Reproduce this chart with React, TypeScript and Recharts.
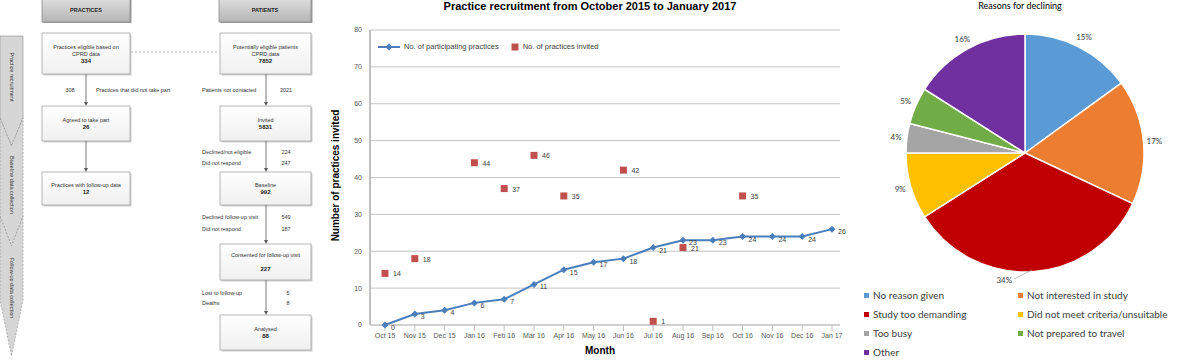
import React from "react";
import {
  ComposedChart,
  Line,
  XAxis,
  YAxis,
  CartesianGrid,
  LabelList,
  PieChart,
  Pie,
  Cell,
} from "recharts";

// recruitment per month
const months = [
  "Oct 15", "Nov 15", "Dec 15", "Jan 16", "Feb 16", "Mar 16", "Apr 16", "May 16",
  "Jun 16", "Jul 16", "Aug 16", "Sep 16", "Oct 16", "Nov 16", "Dec 16", "Jan 17",
];
const participating = [0, 3, 4, 6, 7, 11, 15, 17, 18, 21, 23, 23, 24, 24, 24, 26];
const invited = [14, 18, null, 44, 37, 46, 35, null, 42, 1, 21, null, 35, null, null, null];
const yTicks = [0, 10, 20, 30, 40, 50, 60, 70, 80];

// reasons for declining (%)
const reasons = [
  "No reason given",
  "Not interested in study",
  "Study too demanding",
  "Did not meet criteria/unsuitable",
  "Too busy",
  "Not prepared to travel",
  "Other",
];
const reasonShares = [15, 17, 34, 9, 4, 5, 16];
const reasonColors = ["#5B9BD5", "#ED7D31", "#C00000", "#FFC000", "#A5A5A5", "#70AD47", "#7030A0"];

const lineData = months.map((m, i) => ({
  month: m,
  participating: participating[i],
  invited: invited[i],
}));
const pieData = reasons.map((r, i) => ({ name: r, value: reasonShares[i] }));

const FONT = "'Liberation Sans', Arial, sans-serif";
const BLUE = "#4A7EBB";
const RED = "#C0504D";

const Diamond = (props: any) => {
  const { cx, cy, index } = props;
  if (cx == null || cy == null) return <g key={`d-${index}`} />;
  return (
    <path
      key={`d-${index}`}
      d={`M${cx},${cy - 3.5}L${cx + 3.5},${cy}L${cx},${cy + 3.5}L${cx - 3.5},${cy}Z`}
      fill={BLUE}
    />
  );
};

const Square = (props: any) => {
  const { cx, cy, index, value } = props;
  if (cx == null || cy == null || value == null) return <g key={`s-${index}`} />;
  return <rect key={`s-${index}`} x={cx - 3.5} y={cy - 3.5} width={7} height={7} fill={RED} />;
};

const pointLabel = (dx: number, dy: number) => (props: any) => {
  const { x, y, value } = props;
  if (value == null || x == null) return null;
  return (
    <text x={x + dx} y={y + dy} fontSize={7} fill="#404040" fontFamily={FONT}>
      {value}
    </text>
  );
};

function RecruitmentChart() {
  return (
    <div style={{ position: "absolute", left: 320, top: 0, width: 545, height: 361 }}>
      <div
        style={{
          position: "absolute", left: 0, width: 540, top: 0, textAlign: "center",
          fontFamily: FONT, fontWeight: "bold", fontSize: 11, color: "#000",
        }}
      >
        Practice recruitment from October 2015 to January 2017
      </div>
      <div
        style={{
          position: "absolute", left: 15, top: 177, width: 0, height: 0,
        }}
      >
        <div
          style={{
            position: "absolute", left: -100, top: -7, width: 200, textAlign: "center",
            transform: "rotate(-90deg)", fontFamily: FONT, fontWeight: "bold", fontSize: 10, color: "#000",
          }}
        >
          Number of practices invited
        </div>
      </div>
      <div
        style={{
          position: "absolute", left: 250, width: 60, top: 345, textAlign: "center",
          fontFamily: FONT, fontWeight: "bold", fontSize: 10, color: "#000",
        }}
      >
        Month
      </div>
      <div
        style={{
          position: "absolute", left: 58, top: 42, display: "flex", alignItems: "center",
          fontFamily: FONT, fontSize: 7.5, color: "#404040", zIndex: 2,
        }}
      >
        <svg width={22} height={8}>
          <line x1={0} y1={4} x2={22} y2={4} stroke={BLUE} strokeWidth={2} />
          <path d="M11,0.5L14.5,4L11,7.5L7.5,4Z" fill={BLUE} />
        </svg>
        <span style={{ marginLeft: 4 }}>No. of participating practices</span>
        <svg width={8} height={8} style={{ marginLeft: 12 }}>
          <rect x={0.5} y={0.5} width={7} height={7} fill={RED} />
        </svg>
        <span style={{ marginLeft: 4 }}>No. of practices invited</span>
      </div>
      <ComposedChart
        width={545}
        height={361}
        data={lineData}
        margin={{ top: 30, right: 25, bottom: 16, left: 0 }}
      >
        <CartesianGrid vertical={false} stroke="#c4c4c4" />
        <XAxis
          dataKey="month"
          interval={0}
          height={20}
          padding={{ left: 15, right: 8 }}
          tick={{ fontSize: 7, fill: "#595959", fontFamily: FONT }}
          tickLine={{ stroke: "#bfbfbf" }}
          axisLine={{ stroke: "#bfbfbf" }}
        />
        <YAxis
          domain={[0, 80]}
          ticks={yTicks}
          width={50}
          tick={{ fontSize: 7, fill: "#595959", fontFamily: FONT }}
          tickLine={false}
          axisLine={{ stroke: "#bfbfbf", strokeWidth: 2 }}
        />
        <Line
          dataKey="participating"
          stroke={BLUE}
          strokeWidth={2}
          dot={Diamond}
          activeDot={false}
          isAnimationActive={false}
        >
          <LabelList dataKey="participating" content={pointLabel(6, 5)} />
        </Line>
        <Line
          dataKey="invited"
          stroke="none"
          dot={Square}
          activeDot={false}
          isAnimationActive={false}
        >
          <LabelList dataKey="invited" content={pointLabel(8, 3)} />
        </Line>
      </ComposedChart>
    </div>
  );
}

const RAD = Math.PI / 180;
const renderPieLabel = (p: any) => {
  const r = p.outerRadius + 11;
  const x = p.cx + r * Math.cos(-p.midAngle * RAD);
  const y = p.cy + r * Math.sin(-p.midAngle * RAD);
  if (p.value > 30) {
    const ex = p.cx + (p.outerRadius - 2) * Math.cos(-p.midAngle * RAD);
    const ey = p.cy + (p.outerRadius - 2) * Math.sin(-p.midAngle * RAD);
    return (
      <g>
        <line x1={ex} y1={ey} x2={ex - 18} y2={ey + 9} stroke="#a6a6a6" strokeWidth={0.8} />
        <text x={ex - 28} y={ey + 10} fontSize={8} fill="#404040" textAnchor="middle" dominantBaseline="central" fontFamily="Lato, sans-serif">
          {p.value}%
        </text>
      </g>
    );
  }
  return (
    <text x={x} y={y} fontSize={8} fill="#404040" textAnchor="middle" dominantBaseline="central" fontFamily="Lato, sans-serif">
      {p.value}%
    </text>
  );
};

function ReasonsChart() {
  return (
    <div style={{ position: "absolute", left: 840, top: 0, width: 337, height: 361 }}>
      <div
        style={{
          position: "absolute", left: 0, width: 360, top: 0, textAlign: "center",
          fontFamily: "Lato, sans-serif", fontSize: 9, color: "#000",
        }}
      >
        Reasons for declining
      </div>
      <PieChart width={337} height={290}>
        <Pie
          data={pieData}
          dataKey="value"
          cx={180}
          cy={148}
          outerRadius={119}
          startAngle={90}
          endAngle={-270}
          stroke="#fff"
          strokeWidth={1.5}
          label={renderPieLabel}
          labelLine={false}
          isAnimationActive={false}
        >
          {pieData.map((d, i) => (
            <Cell key={d.name} fill={reasonColors[i]} />
          ))}
        </Pie>
      </PieChart>
      <div
        style={{
          position: "absolute", left: 24, top: 289, width: 320,
          display: "grid", gridTemplateColumns: "154px 160px", rowGap: 7,
          fontFamily: "Lato, sans-serif", fontSize: 10, color: "#404040",
        }}
      >
        {reasons.map((r, i) => (
          <div key={r} style={{ display: "flex", alignItems: "center", height: 12, whiteSpace: "nowrap" }}>
            <span style={{ width: 5, height: 5, background: reasonColors[i], marginRight: 4 }} />
            {r}
          </div>
        ))}
      </div>
    </div>
  );
}

const FF = FONT;

function FlowBox({ x, y, w, h, lines, num }: { x: number; y: number; w: number; h: number; lines: string[]; num: string }) {
  const lh = 7;
  const total = lines.length + 1;
  const startY = y + h / 2 - ((total - 1) * lh) / 2 + 2;
  return (
    <g>
      <rect x={x + 1.5} y={y + 1.5} width={w} height={h} fill="#cfcfcf" />
      <rect x={x} y={y} width={w} height={h} fill="url(#boxGrad)" stroke="#a6a6a6" strokeWidth={0.8} />
      {lines.map((l, i) => (
        <text key={i} x={x + w / 2} y={startY + i * lh} fontSize={5.5} textAnchor="middle" fill="#333" fontFamily={FF}>
          {l}
        </text>
      ))}
      <text x={x + w / 2} y={startY + lines.length * lh} fontSize={6} fontWeight="bold" textAnchor="middle" fill="#222" fontFamily={FF}>
        {num}
      </text>
    </g>
  );
}

function Header({ x, w, text }: { x: number; w: number; text: string }) {
  return (
    <g>
      <rect x={x + 1.5} y={-2} width={w} height={25} fill="#9c9c9c" />
      <rect x={x} y={-3} width={w} height={25} fill="url(#headGrad)" stroke="#8c8c8c" strokeWidth={0.8} />
      <text x={x + w / 2} y={12} fontSize={5.5} fontWeight="bold" textAnchor="middle" fill="#222" fontFamily={FF}>
        {text}
      </text>
    </g>
  );
}

function Arrow({ x, y1, y2 }: { x: number; y1: number; y2: number }) {
  return (
    <g>
      <line x1={x} y1={y1} x2={x} y2={y2 - 3} stroke="#595959" strokeWidth={0.8} />
      <path d={`M${x - 2},${y2 - 4}L${x + 2},${y2 - 4}L${x},${y2}Z`} fill="#595959" />
    </g>
  );
}

function SideText({ x, y, text, anchor = "start" }: { x: number; y: number; text: string; anchor?: string }) {
  return (
    <text x={x} y={y} fontSize={5.5} fill="#333" textAnchor={anchor as any} fontFamily={FF}>
      {text}
    </text>
  );
}

function StageLabel({ y, text }: { y: number; text: string }) {
  return (
    <text x={0} y={0} transform={`translate(10,${y}) rotate(90)`} fontSize={5.5} fill="#333" textAnchor="middle" fontFamily={FF}>
      {text}
    </text>
  );
}

function Flowchart() {
  return (
    <svg width={320} height={361} style={{ position: "absolute", left: 0, top: 0 }}>
      <defs>
        <linearGradient id="boxGrad" x1="0" y1="0" x2="0" y2="1">
          <stop offset="0" stopColor="#ffffff" />
          <stop offset="1" stopColor="#f0f0f0" />
        </linearGradient>
        <linearGradient id="headGrad" x1="0" y1="0" x2="0" y2="1">
          <stop offset="0" stopColor="#e0e0e0" />
          <stop offset="1" stopColor="#b5b5b5" />
        </linearGradient>
      </defs>

      {/* stage banner */}
      <path d="M0,36L23,36L23,118L11.5,146L0,118Z" fill="#d6d6d6" stroke="#8c8c8c" strokeWidth={0.6} />
      <path d="M0,118L11.5,146L23,118L23,216L11.5,246L0,216Z" fill="#d6d6d6" stroke="#8c8c8c" strokeWidth={0.6} strokeDasharray="2,1.5" />
      <path d="M0,216L11.5,246L23,216L23,300L11.5,356L0,300Z" fill="#d6d6d6" stroke="#8c8c8c" strokeWidth={0.6} strokeDasharray="2,1.5" />
      <StageLabel y={77} text="Practice recruitment" />
      <StageLabel y={185} text="Baseline data collection" />
      <StageLabel y={288} text="Follow-up data collection" />

      <Header x={42} w={88} text="PRACTICES" />
      <Header x={219} w={92} text="PATIENTS" />

      {/* practices column */}
      <FlowBox x={42} y={33} w={88} h={41} lines={["Practices eligible based on", "CPRD data"]} num="334" />
      <Arrow x={86} y1={74} y2={106} />
      <SideText x={70} y={92} text="308" anchor="middle" />
      <SideText x={96} y={92} text="Practices that did not take part" />
      <FlowBox x={42} y={106} w={88} h={35} lines={["Agreed to take part"]} num="26" />
      <Arrow x={86} y1={141} y2={172} />
      <FlowBox x={42} y={172} w={88} h={33} lines={["Practices with follow-up data"]} num="12" />

      <line x1={131} y1={52} x2={219} y2={52} stroke="#a6a6a6" strokeWidth={0.8} strokeDasharray="2,2" />

      {/* patients column */}
      <FlowBox x={220} y={33} w={91} h={41} lines={["Potentially eligible patients", "CPRD data"]} num="7852" />
      <Arrow x={266} y1={74} y2={106} />
      <SideText x={202} y={92} text="Patients not contacted" />
      <SideText x={286} y={92} text="2021" anchor="middle" />
      <FlowBox x={220} y={106} w={91} h={35} lines={["Invited"]} num="5831" />
      <Arrow x={266} y1={141} y2={172} />
      <SideText x={202} y={154} text="Declined/not eligible" />
      <SideText x={286} y={154} text="224" anchor="middle" />
      <SideText x={202} y={165} text="Did not respond" />
      <SideText x={286} y={165} text="247" anchor="middle" />
      <FlowBox x={220} y={172} w={91} h={33} lines={["Baseline"]} num="992" />
      <Arrow x={266} y1={205} y2={244} />
      <SideText x={202} y={219} text="Declined follow-up visit" />
      <SideText x={286} y={219} text="549" anchor="middle" />
      <SideText x={202} y={231} text="Did not respond" />
      <SideText x={286} y={231} text="187" anchor="middle" />
      <FlowBox x={220} y={244} w={91} h={36} lines={["Consented for follow-up visit", ""]} num="227" />
      <Arrow x={266} y1={280} y2={315} />
      <SideText x={202} y={295} text="Lost to follow-up" />
      <SideText x={288} y={295} text="5" anchor="middle" />
      <SideText x={202} y={305} text="Deaths" />
      <SideText x={288} y={305} text="8" anchor="middle" />
      <FlowBox x={220} y={315} w={91} h={35} lines={["Analysed"]} num="88" />
    </svg>
  );
}

export default function App() {
  return (
    <div
      style={{
        position: "absolute", left: 0, top: 0, width: 1177, height: 361,
        background: "#fff", overflow: "hidden",
      }}
    >
      <Flowchart />
      <RecruitmentChart />
      <ReasonsChart />
    </div>
  );
}
